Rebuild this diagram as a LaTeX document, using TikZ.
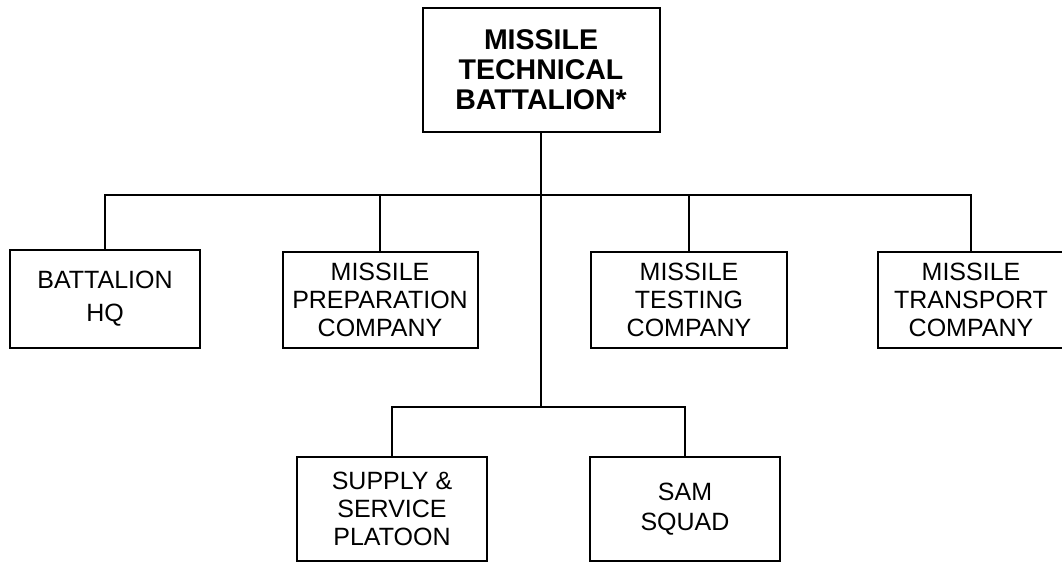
\documentclass[tikz,border=0pt]{standalone}
\usepackage{fontspec}
\setmainfont{Liberation Sans}
\usepackage{tikz}

\begin{document}
\begin{tikzpicture}[
    x=1pt, y=-1pt,
    unit/.style={draw, line width=2pt, inner sep=0pt, align=center,
                 font=\fontsize{25}{28}\selectfont},
    hq/.style={draw, line width=2pt, inner sep=0pt, align=center,
                 font=\fontsize{28.5}{30}\selectfont\bfseries},
    link/.style={line width=2pt}
]
\useasboundingbox[fill=white] (0,0) rectangle (1062,562);

\node[hq, minimum width=237pt, minimum height=124pt]   (top)    at (541,70)  {MISSILE\\TECHNICAL\\BATTALION*};

\node[unit, minimum width=190pt, minimum height=98pt, font=\fontsize{25}{33}\selectfont]  (bhq) at (105,299) {BATTALION\\HQ};
\node[unit, minimum width=195pt, minimum height=96pt]  (prep)   at (380,300) {MISSILE\\PREPARATION\\COMPANY};
\node[unit, minimum width=196pt, minimum height=96pt]  (test)   at (689,300) {MISSILE\\TESTING\\COMPANY};
\node[unit, minimum width=186pt, minimum height=96pt]  (trans)  at (971,300) {MISSILE\\TRANSPORT\\COMPANY};

\node[unit, minimum width=190pt, minimum height=104pt] (supply) at (392,509) {SUPPLY \&\\SERVICE\\PLATOON};
\node[unit, minimum width=190pt, minimum height=104pt, font=\fontsize{25}{30}\selectfont] (sam) at (685,509) {SAM\\SQUAD};

\coordinate (bus) at (541,195);
\coordinate (sub) at (541,407);

\draw[link] (top.south)    -- (sub);
\draw[link] (bhq.north)    |- (bus);
\draw[link] (prep.north)   |- (bus);
\draw[link] (test.north)   |- (bus);
\draw[link] (trans.north)  |- (bus);
\draw[link] (supply.north) |- (sub);
\draw[link] (sam.north)    |- (sub);
\end{tikzpicture}
\end{document}
